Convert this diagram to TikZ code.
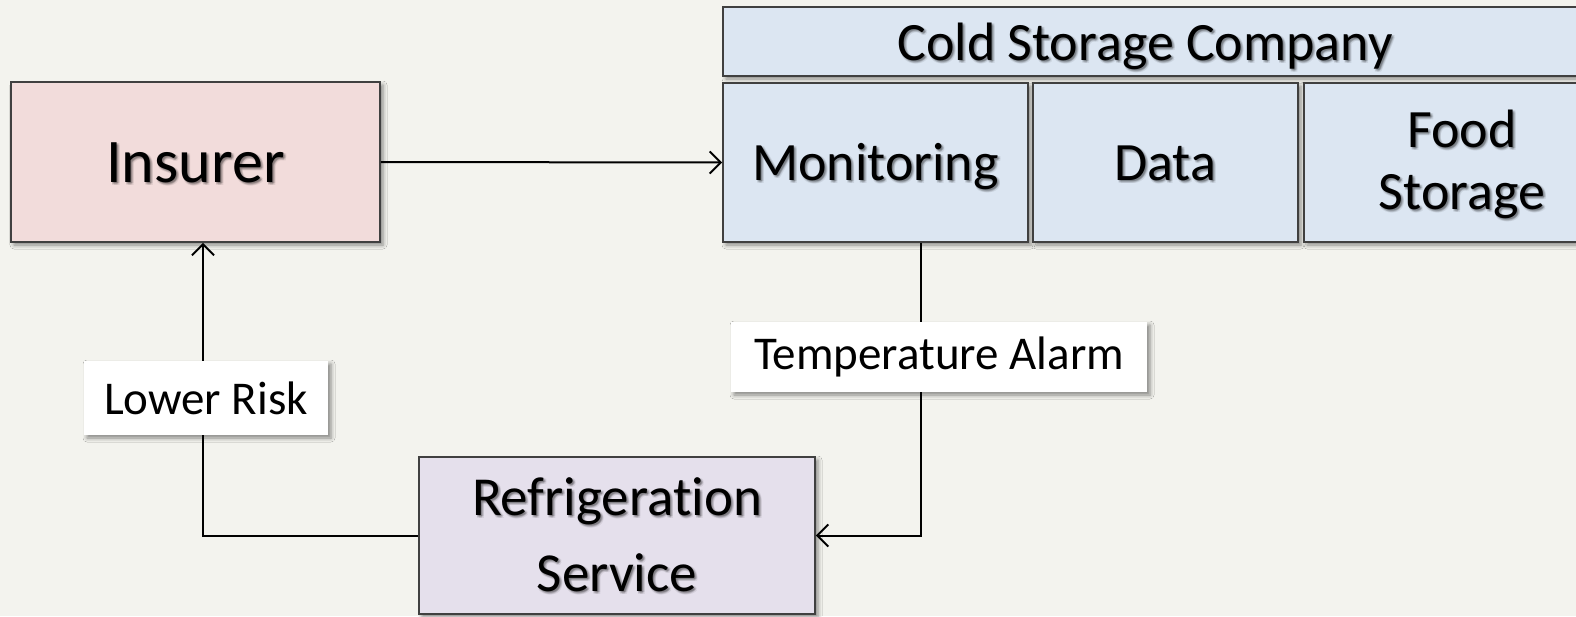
\documentclass[tikz,border=0pt]{standalone}
\usepackage{fontspec}
\setmainfont{Carlito}[Ligatures=NoCommon]
\usetikzlibrary{arrows.meta,shadows.blur}

\definecolor{bg}{RGB}{243,243,238}
\definecolor{insfill}{RGB}{242,220,219}
\definecolor{bluefill}{RGB}{220,230,242}
\definecolor{reffill}{RGB}{229,224,236}
\definecolor{edge}{RGB}{64,64,64}

\tikzset{
  softshadow/.style={blur shadow={shadow xshift=3pt, shadow yshift=-3pt,
      shadow blur radius=4pt, shadow opacity=45}},
  card/.style={draw=edge, line width=1.8pt, inner sep=0pt, softshadow},
  insbox/.style={card, fill=insfill},
  bluebox/.style={card, fill=bluefill},
  refbox/.style={card, fill=reffill},
  tag/.style={fill=white, inner sep=0pt, softshadow,
      font=\fontsize{47}{52}\selectfont},
  txt/.style={align=center, inner sep=0pt},
  bigfont/.style={font=\fontsize{62}{70}\selectfont},
  midfont/.style={font=\fontsize{54}{62}\selectfont},
  reffont/.style={font=\fontsize{55}{76}\selectfont},
  conn/.style={line width=2pt, line join=miter,
      -{Straight Barb[length=11pt, width=22pt, line width=2pt]}},
}

% box caption with a soft cast shadow behind the glyphs
\newcommand\castlabel[4]{%
  \foreach \dx/\dy in {1/1,2/2,3/3,3/1,1/3,2/1,1/2}
    \node[txt,#2,opacity=0.08] at ([shift={(\dx,\dy)}]#3) {#4};
  \node[txt,#2] (#1) at (#3) {#4};
}

\begin{document}
\begin{tikzpicture}[x=1pt,y=-1pt]
  \useasboundingbox (0,0) rectangle (1576,616);
  \clip (0,0) rectangle (1576,616);
  \fill[bg] (0,0) rectangle (1576,616);

  % boxes
  \node[insbox, minimum width=369, minimum height=160] (ins) at (195.5,162) {};
  \node[bluebox, minimum width=867, minimum height=69] (csc) at (1156.5,41.5) {};
  \node[bluebox, minimum width=305, minimum height=159] (mon) at (875.5,162.5) {};
  \node[bluebox, minimum width=265, minimum height=159] (dat) at (1165.5,162.5) {};
  \node[bluebox, minimum width=316, minimum height=159] (food) at (1462,162.5) {};
  \node[refbox, minimum width=396, minimum height=157] (ref) at (617,535.5) {};

  % captions
  \castlabel{ins-t}{bigfont,anchor=base}{195.5,182}{Insurer}
  \castlabel{csc-t}{midfont,anchor=base}{1145,60}{Cold Storage Company}
  \castlabel{mon-t}{midfont,anchor=base}{875.5,180}{Monitoring}
  \castlabel{dat-t}{midfont,anchor=base}{1165,180}{Data}
  \castlabel{food-t}{midfont}{1462,164}{Food\\Storage}
  \castlabel{ref-t}{reffont}{617,535}{Refrigeration\\Service}

  % connectors
  \draw[conn] (ins.east) -- (mon.west);
  \draw[conn] ([xshift=45.5pt]mon.south) |- (ref.east);
  \draw[conn] (ref.west) -| ([xshift=7.5pt]ins.south);

  % connector labels
  \node[tag, minimum width=416, minimum height=70] (alarm) at (939,357) {Temperature Alarm};
  \node[tag, minimum width=244, minimum height=74] (risk) at (206,398) {Lower Risk};
\end{tikzpicture}
\end{document}
